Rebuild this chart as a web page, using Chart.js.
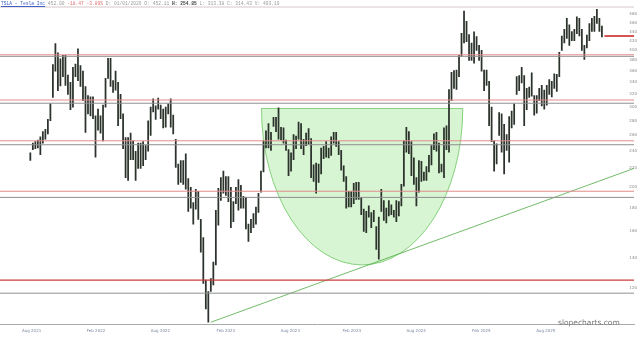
<!DOCTYPE html>
<html>
<head>
<meta charset="utf-8">
<script src="https://cdn.jsdelivr.net/npm/chart.js@4.4.1/dist/chart.umd.min.js"></script>
<style>
  html, body { margin: 0; padding: 0; background: #fff; }
  #wrap { position: relative; width: 640px; height: 340px; }
  #head { position: absolute; left: 1px; top: 1px; font: 4.6px "Liberation Mono", monospace; color: #999; white-space: nowrap; }
  #head .sym { color: #4060c8; text-decoration: underline; }
  #head .chg { color: #e07070; }
  #head b { color: #444; }
  #mark { position: absolute; left: 558px; top: 318px; font: 7.5px "DejaVu Sans", sans-serif; color: #777; }
</style>
</head>
<body>
<div id="wrap">
  <canvas id="priceChart" width="640" height="340"></canvas>
  <div id="head"><span class="sym">TSLA - Tesla Inc</span> 452.00 <span class="chg">-18.47 -3.89%</span> D: 01/01/2026 O: 452.11 <b>H: 254.85</b> L: 313.38 C: 314.43 V: 493.19</div>
  <div id="mark">slopecharts.com</div>
</div>
<script>
// weekly bars, x = weeks since 2 Aug 2021
var firstWeek = 3;
var lows = [
  229, 242, 243, 244, 236, 250, 255, 262, 280, 315,
  360, 326, 334, 350, 335, 320, 296, 300, 350, 343,
  333, 310, 264, 290, 287, 283, 233, 267, 263, 253,
  300, 347, 333, 323, 327, 273, 283, 243, 210, 207,
  230, 230, 207, 220, 220, 223, 230, 240, 260, 293,
  282, 297, 283, 270, 271, 290, 271, 262, 221, 203,
  205, 203, 198, 177, 180, 166, 179, 170, 144, 123,
  108, 101, 118, 122, 135, 165, 187, 194, 192, 186,
  163, 168, 184, 178, 180, 180, 162, 152, 159, 163,
  166, 176, 195, 216, 244, 244, 241, 272, 265, 255,
  254, 250, 241, 212, 217, 230, 243, 255, 243, 236,
  247, 249, 210, 206, 194, 205, 214, 231, 233, 232,
  235, 250, 246, 236, 218, 206, 180, 181, 181, 184,
  188, 188, 174, 160, 159, 172, 163, 168, 146, 139,
  177, 169, 167, 173, 174, 172, 168, 173, 182, 201,
  239, 237, 212, 203, 182, 195, 206, 207, 207, 216,
  224, 242, 240, 215, 216, 210, 242, 239, 310, 330,
  328, 350, 388, 415, 418, 380, 380, 375, 400, 380,
  360, 326, 335, 273, 252, 217, 225, 260, 239, 214,
  241, 227, 270, 275, 320, 326, 339, 273, 296, 315,
  317, 288, 291, 310, 302, 297, 303, 320, 316, 330,
  325, 350, 400, 415, 425, 410, 420, 420, 435, 430,
  400, 382, 405, 420, 440, 440, 458, 440, 428
];
var highs = [
  238, 250, 252, 254, 258, 265, 268, 282, 305, 372,
  414, 395, 383, 390, 390, 353, 340, 367, 373, 403,
  370, 360, 333, 318, 316, 316, 287, 297, 287, 303,
  347, 384, 384, 343, 360, 340, 320, 290, 257, 257,
  263, 253, 240, 250, 250, 252, 247, 280, 300, 313,
  302, 314, 303, 297, 300, 305, 313, 288, 255, 225,
  229, 229, 237, 209, 200, 185, 198, 196, 170, 155,
  125, 118, 126, 137, 178, 199, 210, 217, 211, 211,
  200, 186, 200, 208, 202, 191, 190, 166, 170, 175,
  181, 194, 217, 253, 266, 276, 264, 285, 285, 299,
  271, 270, 254, 242, 238, 261, 259, 278, 276, 255,
  263, 269, 256, 224, 226, 225, 244, 246, 252, 244,
  258, 264, 264, 252, 241, 223, 211, 196, 196, 204,
  205, 205, 190, 179, 177, 182, 176, 178, 164, 172,
  198, 187, 180, 187, 183, 178, 187, 186, 203, 253,
  271, 265, 252, 232, 210, 229, 228, 216, 222, 235,
  247, 262, 264, 250, 225, 270, 273, 328, 358, 361,
  362, 390, 436, 488, 463, 433, 415, 439, 429, 410,
  400, 362, 362, 342, 300, 253, 249, 292, 290, 275,
  261, 286, 294, 305, 350, 352, 367, 352, 330, 332,
  357, 318, 318, 330, 335, 327, 335, 345, 342, 355,
  354, 396, 430, 445, 470, 455, 440, 445, 474, 470,
  445, 410, 432, 458, 470, 475, 492, 470, 452
];

var tickLabels = ["Aug 2021", "Feb 2022", "Aug 2022", "Feb 2023", "Aug 2023", "Feb 2024", "Aug 2024", "Feb 2025", "Aug 2025"];
var tickWeeks = [3.5, 29.2, 54.9, 81.0, 106.7, 131.2, 156.9, 182.9, 208.6];
var yTicks = [120, 140, 160, 180, 200, 220, 240, 260, 280, 300, 320, 340, 360, 380, 400, 420, 440, 460, 480];

var xMin = -9.1, xMax = 243.8;
var yMin = 100, yMax = 498;

// drawn levels
var redLevels = [391, 311, 253, 196];
var grayLevels = [388, 306, 248, 190, 117];
var supportLevel = 125;
var lastPrice = 430;
var lastWeek = 232;

// trendline and cup
var trendStart = { x: 75, y: 101 };
var trendEnd = { x: 243.8, y: 220 };
var cupLeft = 95.2, cupRight = 175.5, cupTop = 298, cupBottom = 135;

function hline(level, color, width) {
    return {
        type: 'line',
        data: [{ x: xMin, y: level }, { x: xMax, y: level }],
        borderColor: color,
        borderWidth: width || 1,
        pointRadius: 0,
        clip: false
    };
}

var datasets = [];
datasets.push(hline(yMax, '#d8c8c8'));
redLevels.forEach(function (v) { datasets.push(hline(v, '#e38c8c')); });
grayLevels.forEach(function (v) { datasets.push(hline(v, '#8f8f8f')); });
datasets.push(hline(supportLevel, '#d03c3c', 1.2));
datasets.push({
    type: 'line',
    data: [trendStart, trendEnd],
    borderColor: 'rgba(80,170,70,0.8)',
    borderWidth: 1,
    pointRadius: 0
});
datasets.push({
    type: 'line',
    data: [{ x: lastWeek, y: lastPrice }, { x: xMax, y: lastPrice }],
    borderColor: '#cc2a2a',
    borderWidth: 1.6,
    pointRadius: 0,
    clip: false
});
datasets.push({
    type: 'bar',
    data: lows.map(function (lo, i) { return { x: firstWeek + i, y: [lo, highs[i]] }; }),
    backgroundColor: '#2c332c',
    barThickness: 1.1
});

var cupPlugin = {
    id: 'cup',
    beforeDatasetsDraw: function (chart) {
        var ctx = chart.ctx, x = chart.scales.x, y = chart.scales.y;
        var x0 = x.getPixelForValue(cupLeft), x1 = x.getPixelForValue(cupRight);
        var yTop = y.getPixelForValue(cupTop), yBot = y.getPixelForValue(cupBottom);
        ctx.save();
        ctx.beginPath();
        ctx.ellipse((x0 + x1) / 2, yTop, (x1 - x0) / 2, yBot - yTop, 0, 0, Math.PI);
        ctx.closePath();
        ctx.fillStyle = 'rgba(175,235,165,0.5)';
        ctx.fill();
        ctx.strokeStyle = 'rgba(100,195,90,0.75)';
        ctx.lineWidth = 1;
        ctx.stroke();
        ctx.restore();
    }
};

var ctx = document.getElementById("priceChart").getContext("2d");
new Chart(ctx, {
    type: 'bar',
    data: { datasets: datasets },
    plugins: [cupPlugin],
    options: {
        responsive: false,
        animation: false,
        layout: { padding: { top: 7, bottom: 3, left: 0, right: 0 } },
        plugins: { legend: { display: false }, tooltip: { enabled: false } },
        scales: {
            x: {
                type: 'linear',
                offset: false,
                min: xMin,
                max: xMax,
                grid: { display: false, drawTicks: false, offset: false },
                border: { display: true, color: '#aaaaaa' },
                afterBuildTicks: function (s) { s.ticks = tickWeeks.map(function (v) { return { value: v }; }); },
                ticks: {
                    autoSkip: false, maxRotation: 0, padding: 4, color: '#7a8aa0',
                    font: { size: 4, family: 'DejaVu Sans' },
                    callback: function (v, i) { return tickLabels[i]; }
                }
            },
            y: {
                type: 'logarithmic',
                position: 'right',
                min: yMin,
                max: yMax,
                grid: { display: false, drawTicks: false },
                border: { display: false },
                afterBuildTicks: function (s) { s.ticks = yTicks.map(function (v) { return { value: v }; }); },
                ticks: {
                    mirror: true, padding: 3, color: '#888',
                    font: { size: 4, family: 'DejaVu Sans' },
                    callback: function (v) { return v; }
                }
            }
        }
    }
});
</script>
</body>
</html>
